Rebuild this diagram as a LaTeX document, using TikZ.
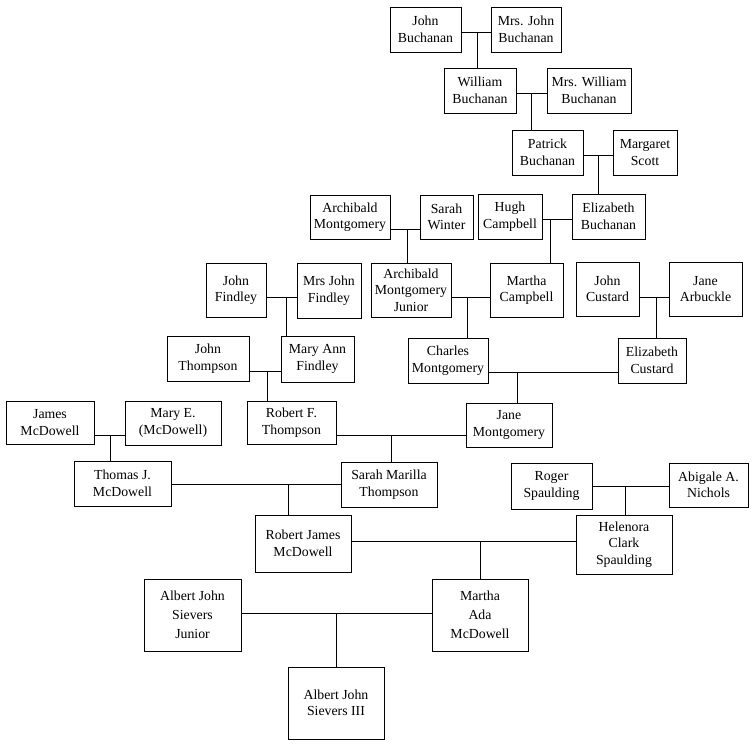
\documentclass[tikz,border=0pt]{standalone}
\usepackage{fontspec}
\setmainfont{Liberation Serif}
\usepackage{tikz}

\begin{document}
\begin{tikzpicture}[x=1pt, y=-1pt, line width=0.9pt,
    person/.style={draw, align=center, inner sep=1pt,
        font=\fontsize{13.8}{16.5}\selectfont},
    tall/.style={person, font=\fontsize{13.8}{19}\selectfont}]

    \useasboundingbox (0,0) rectangle (755,744);

    % Buchanan line
    \node[person, minimum width=71, minimum height=45] (jb)  at (425.5,29.5) {John\\Buchanan};
    \node[person, minimum width=70, minimum height=45] (mjb) at (526,29.5)   {Mrs. John\\Buchanan};
    \node[person, minimum width=72, minimum height=45] (wb)  at (480,90.5)   {William\\Buchanan};
    \node[person, minimum width=84, minimum height=45] (mwb) at (589,90.5)   {Mrs. William\\Buchanan};
    \node[person, minimum width=71, minimum height=45] (pb)  at (547.5,152.5) {Patrick\\Buchanan};
    \node[person, minimum width=64, minimum height=45] (ms)  at (645,152.5)  {Margaret\\Scott};
    \node[person, minimum width=73, minimum height=45] (eb)  at (608.5,216.5) {Elizabeth\\Buchanan};
    \node[person, minimum width=64, minimum height=45] (hc)  at (510,216.5)  {Hugh\\Campbell};

    % Montgomery line
    \node[person, minimum width=80, minimum height=44] (am)  at (350,217)    {Archibald\\Montgomery};
    \node[person, minimum width=53, minimum height=44] (sw)  at (446.5,217)  {Sarah\\Winter};
    \node[person, minimum width=80, minimum height=54] (amj) at (411,290)    {Archibald\\Montgomery\\Junior};
    \node[person, minimum width=73, minimum height=54] (mc)  at (526.5,290)  {Martha\\Campbell};
    \node[person, minimum width=80, minimum height=45] (cm)  at (448,360.5)  {Charles\\Montgomery};
    \node[person, minimum width=63, minimum height=54] (jc)  at (607.5,289)  {John\\Custard};
    \node[person, minimum width=73, minimum height=54] (ja)  at (705.5,289)  {Jane\\Arbuckle};
    \node[person, minimum width=68, minimum height=45] (ec)  at (652,360.5)  {Elizabeth\\Custard};
    \node[person, minimum width=86, minimum height=44] (jm)  at (509,425)    {Jane\\Montgomery};

    % Findley and Thompson line
    \node[person, minimum width=60, minimum height=54] (jf)  at (236,290)    {John\\Findley};
    \node[person, minimum width=64, minimum height=55] (mjf) at (329,290.5)  {Mrs John\\Findley};
    \node[person, minimum width=73, minimum height=46] (maf) at (317.5,359)  {Mary Ann\\Findley};
    \node[person, minimum width=82, minimum height=45] (jt)  at (208,358.5)  {John\\Thompson};
    \node[person, minimum width=89, minimum height=43] (rft) at (291.5,422.5) {Robert F.\\Thompson};
    \node[person, minimum width=96, minimum height=45] (smt) at (389,484.5)  {Sarah Marilla\\Thompson};

    % McDowell line
    \node[person, minimum width=88, minimum height=43] (jmd) at (50,422.5)   {James\\McDowell};
    \node[person, minimum width=96, minimum height=44] (mem) at (173,423)    {Mary E.\\(McDowell)};
    \node[person, minimum width=97, minimum height=45] (tjm) at (122.5,483.5) {Thomas J.\\McDowell};
    \node[person, minimum width=96, minimum height=57] (rjm) at (303,543.5)  {Robert James\\McDowell};

    % Spaulding line
    \node[person, minimum width=81, minimum height=46] (rs)  at (551.5,486)  {Roger\\Spaulding};
    \node[person, minimum width=79, minimum height=44] (aan) at (708.5,485)  {Abigale A.\\Nichols};
    \node[person, minimum width=96, minimum height=59] (hcs) at (624,544.5)  {Helenora\\Clark\\Spaulding};

    % last generations
    \node[tall, minimum width=96, minimum height=72] (mam)  at (480,615)   {Martha\\Ada\\McDowell};
    \node[tall, minimum width=97, minimum height=72] (ajs)  at (192.5,615) {Albert John\\Sievers\\Junior};
    \node[person, minimum width=96, minimum height=72] (ajs3) at (336,703) {Albert John\\Sievers III};

    % marriage points
    \coordinate (u1)  at (477,32);
    \coordinate (u2)  at (531,93);
    \coordinate (u3)  at (598,155);
    \coordinate (u4)  at (550,219);
    \coordinate (u5)  at (407,229);
    \coordinate (u6)  at (467,297);
    \coordinate (u7)  at (286,297);
    \coordinate (u8)  at (267,371);
    \coordinate (u9)  at (656,297);
    \coordinate (u10) at (517,372);
    \coordinate (u11) at (391,435);
    \coordinate (u12) at (110,435);
    \coordinate (u13) at (288,484);
    \coordinate (u14) at (625,486);
    \coordinate (u15) at (480,541);
    \coordinate (u16) at (336,613);

    \foreach \a/\b/\u/\c in {jb/mjb/u1/wb, wb/mwb/u2/pb, pb/ms/u3/eb, hc/eb/u4/mc,
                            am/sw/u5/amj, amj/mc/u6/cm, jf/mjf/u7/maf, jt/maf/u8/rft,
                            jc/ja/u9/ec, cm/ec/u10/jm, rft/jm/u11/smt, jmd/mem/u12/tjm,
                            tjm/smt/u13/rjm, rs/aan/u14/hcs, rjm/hcs/u15/mam, ajs/mam/u16/ajs3}
        \draw (\a.east |- \u) -- (\b.west |- \u) (\u) -- (\u |- \c.north);
\end{tikzpicture}
\end{document}
